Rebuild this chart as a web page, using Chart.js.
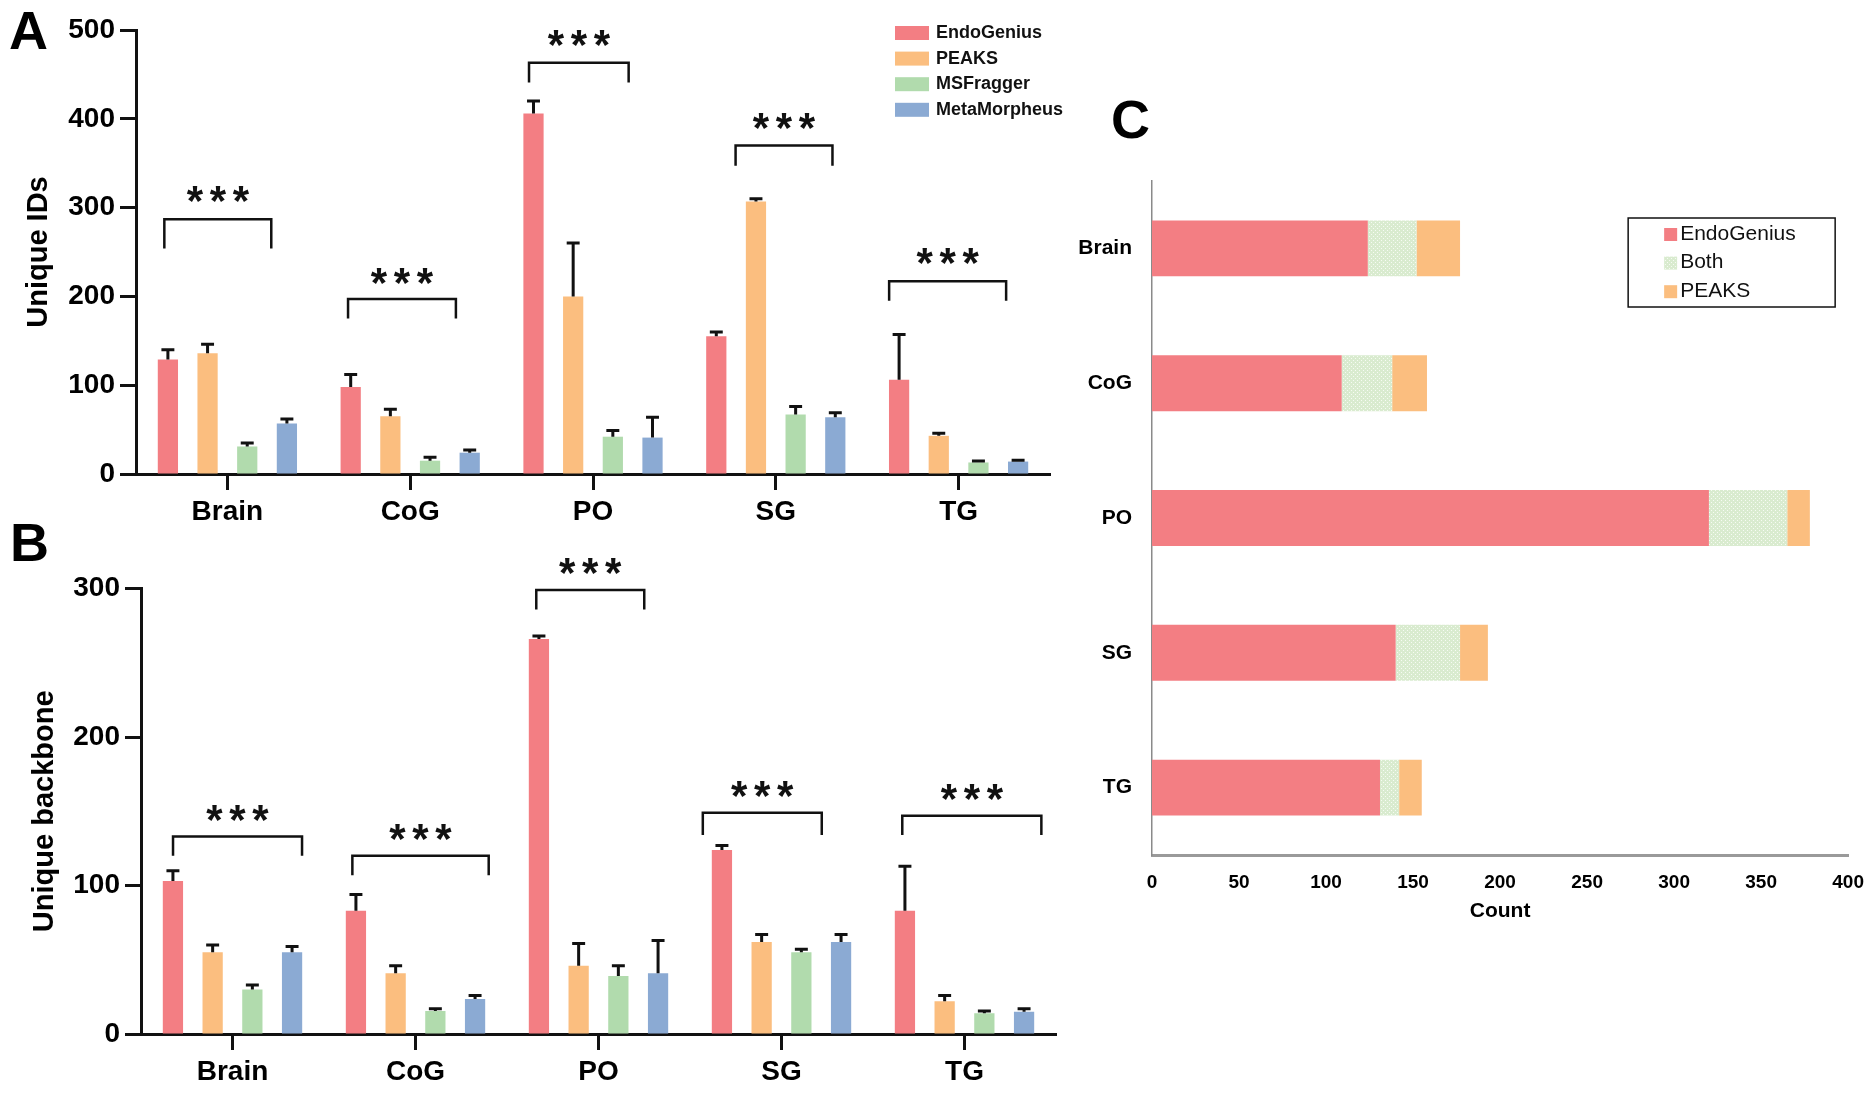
<!DOCTYPE html>
<html>
<head>
<meta charset="utf-8">
<title>Unique IDs, unique backbones and overlap per tissue</title>
<script src="https://cdn.jsdelivr.net/npm/chart.js@4.4.1/dist/chart.umd.min.js"></script>
<style>
  html, body { margin: 0; padding: 0; background: #fff; }
  #page { position: relative; width: 1872px; height: 1097px; overflow: hidden; font-family: "Liberation Sans", Arial, sans-serif; }
  canvas { position: absolute; }
  .panel-letter { position: absolute; font-weight: bold; font-size: 54px; line-height: 1; color: #000; }
</style>
</head>
<body>
<div id="page">
  <canvas id="chart-a" width="1065" height="540" style="left:0; top:0"></canvas>
  <canvas id="chart-b" width="1065" height="557" style="left:0; top:540px"></canvas>
  <canvas id="chart-c" width="807" height="1097" style="left:1065px; top:0"></canvas>
  <div class="panel-letter" style="left:9px; top:3px">A</div>
  <div class="panel-letter" style="left:10px; top:515px">B</div>
  <div class="panel-letter" style="left:1111px; top:92px">C</div>
</div>
<script>
// Categories and methods
const tissues = ['Brain', 'CoG', 'PO', 'SG', 'TG'];
const methods = ['EndoGenius', 'PEAKS', 'MSFragger', 'MetaMorpheus'];
const methodColors = ['#F37E83', '#FBBE7F', '#B1DBAD', '#8BAAD3'];

// Panel A: unique IDs (mean) and upper error
const idsEndoGenius = [129, 98, 406, 155, 106];
const idsPeaks = [136, 65, 200, 307, 43];
const idsMsfragger = [31, 15, 42, 67, 13];
const idsMetaMorpheus = [57, 24, 41, 64, 14];
const idsErrEndoGenius = [11, 14, 14, 5, 51];
const idsErrPeaks = [10, 8, 60, 3, 3];
const idsErrMsfragger = [4, 4, 7, 9, 1.5];
const idsErrMetaMorpheus = [5, 3, 23, 5, 1.5];

// Panel A: significance brackets (top, leg end, star height) in y units
const idsBracketTop = [287, 197, 463, 370, 217];
const idsBracketLeg = [254, 175, 441, 347, 195];
const idsStarY = [315, 223, 491, 398, 245];

// Panel B: unique backbones (mean) and upper error
const bbEndoGenius = [103, 83, 266, 124, 83];
const bbPeaks = [55, 41, 46, 62, 22];
const bbMsfragger = [30, 15.5, 39, 55, 14];
const bbMetaMorpheus = [55, 23.5, 41, 62, 15];
const bbErrEndoGenius = [7, 11, 2, 3, 30];
const bbErrPeaks = [5, 5, 15, 5, 4];
const bbErrMsfragger = [3, 1.5, 7, 2, 1.5];
const bbErrMetaMorpheus = [4, 2.5, 22, 5, 2];

// Panel B: significance brackets
const bbBracketTop = [133, 120, 299, 149, 147];
const bbBracketLeg = [120, 107, 286, 134, 134];
const bbStarY = [149, 136, 315, 165, 163];

// Panel C: overlap counts
const overlapLabels = ['EndoGenius', 'Both', 'PEAKS'];
const overlapEndoGenius = [124, 109, 320, 140, 131];
const overlapBoth = [28, 29, 45, 37, 11];
const overlapPeaks = [25, 20, 13, 16, 13];
const countTicks = [0, 50, 100, 150, 200, 250, 300, 350, 400];

const FONT = '"Liberation Sans", Arial, sans-serif';
const INK = '#111';

// Bracket span per tissue, as fraction of the category width around its centre
const idsBracketSpan = [[-0.345, 0.24], [-0.34, 0.25], [-0.35, 0.195], [-0.22, 0.31], [-0.38, 0.26]];
const bbBracketSpan = [[-0.325, 0.38], [-0.345, 0.40], [-0.34, 0.25], [-0.43, 0.22], [-0.34, 0.42]];

// Upper error whiskers
function errorBarPlugin(errors) {
    return {
        id: 'errorBars',
        afterDatasetsDraw(chart) {
            const ctx = chart.ctx;
            const yScale = chart.scales.y;
            ctx.save();
            ctx.strokeStyle = INK;
            ctx.lineWidth = 3;
            chart.data.datasets.forEach(function (ds, d) {
                chart.getDatasetMeta(d).data.forEach(function (bar, i) {
                    const top = yScale.getPixelForValue(ds.data[i] + errors[d][i]);
                    const half = bar.width * 0.32;
                    ctx.beginPath();
                    ctx.moveTo(bar.x, bar.y);
                    ctx.lineTo(bar.x, top);
                    ctx.moveTo(bar.x - half, top);
                    ctx.lineTo(bar.x + half, top);
                    ctx.stroke();
                });
            });
            ctx.restore();
        }
    };
}

// Significance brackets with three stars
function bracketPlugin(tops, legs, stars, spans) {
    return {
        id: 'brackets',
        afterDraw(chart) {
            const ctx = chart.ctx;
            const x = chart.scales.x, y = chart.scales.y;
            const step = x.getPixelForValue(1) - x.getPixelForValue(0);
            ctx.save();
            ctx.strokeStyle = INK;
            ctx.fillStyle = INK;
            ctx.lineWidth = 2.5;
            ctx.font = 'bold 42px ' + FONT;
            ctx.textAlign = 'center';
            ctx.textBaseline = 'alphabetic';
            const m = ctx.measureText('*');
            const lift = (m.actualBoundingBoxAscent - m.actualBoundingBoxDescent) / 2;
            tops.forEach(function (t, i) {
                const c = x.getPixelForValue(i);
                const x1 = c + spans[i][0] * step;
                const x2 = c + spans[i][1] * step;
                const yt = y.getPixelForValue(t);
                const yl = y.getPixelForValue(legs[i]);
                ctx.beginPath();
                ctx.moveTo(x1, yl);
                ctx.lineTo(x1, yt);
                ctx.lineTo(x2, yt);
                ctx.lineTo(x2, yl);
                ctx.stroke();
                const ys = y.getPixelForValue(stars[i]) + lift;
                const mid = (x1 + x2) / 2;
                [-1, 0, 1].forEach(function (k) {
                    ctx.fillText('*', mid + k * 23, ys);
                });
            });
            ctx.restore();
        }
    };
}

// Legend of panel A, top right inside the plot
const legendAPlugin = {
    id: 'legendA',
    afterDraw(chart) {
        const ctx = chart.ctx;
        const left = chart.chartArea.right - 155;
        const top = chart.chartArea.top + 3;
        ctx.save();
        ctx.font = 'bold 18px ' + FONT;
        ctx.textBaseline = 'middle';
        chart.data.datasets.forEach(function (ds, i) {
            const cy = top + i * 25.6;
            ctx.fillStyle = ds.backgroundColor;
            ctx.fillRect(left, cy - 7, 34, 14);
            ctx.fillStyle = INK;
            ctx.fillText(ds.label, left + 41, cy);
        });
        ctx.restore();
    }
};

// Boxed legend of panel C
const legendCPlugin = {
    id: 'legendC',
    afterDraw(chart) {
        const ctx = chart.ctx;
        const left = chart.chartArea.right - 220;
        const top = chart.chartArea.top + 37;
        ctx.save();
        ctx.strokeStyle = INK;
        ctx.lineWidth = 1.5;
        ctx.strokeRect(left, top, 207, 89);
        ctx.font = '21px ' + FONT;
        ctx.textBaseline = 'middle';
        chart.data.datasets.forEach(function (ds, i) {
            const cy = top + 16 + i * 28.6;
            ctx.fillStyle = ds.backgroundColor;
            ctx.fillRect(left + 36, cy - 6, 13, 13);
            ctx.fillStyle = INK;
            ctx.fillText(ds.label, left + 52, cy);
        });
        ctx.restore();
    }
};

// Dotted fill used for "Both"
function dottedPattern() {
    const c = document.createElement('canvas');
    c.width = 4;
    c.height = 4;
    const g = c.getContext('2d');
    g.fillStyle = '#D9EBCF';
    g.fillRect(0, 0, 4, 4);
    g.fillStyle = '#F6FBF3';
    g.fillRect(0, 0, 1, 1);
    g.fillRect(2, 2, 1, 1);
    return g.createPattern(c, 'repeat');
}

function groupedDatasets(series) {
    return series.map(function (data, i) {
        return {
            label: methods[i],
            data: data,
            backgroundColor: methodColors[i],
            borderWidth: 0,
            categoryPercentage: 0.868,
            barPercentage: 0.51
        };
    });
}

function groupedOptions(yMax, yTitle, yWidth, xHeight, titlePad, padding) {
    return {
        responsive: false,
        animation: false,
        layout: { padding: padding },
        plugins: { legend: { display: false }, tooltip: { enabled: false } },
        scales: {
            x: {
                z: 1,
                grid: { drawOnChartArea: false, drawTicks: true, tickLength: 16, tickWidth: 3, offset: false, color: INK },
                border: { color: INK, width: 3 },
                ticks: { color: '#000', padding: 5, font: { family: FONT, size: 28, weight: 'bold' } },
                afterFit(scale) { scale.height = xHeight; }
            },
            y: {
                min: 0,
                max: yMax,
                grid: { drawOnChartArea: false, drawTicks: true, tickLength: 16, tickWidth: 3, color: INK },
                border: { color: INK, width: 3 },
                ticks: { stepSize: 100, color: '#000', padding: 5, font: { family: FONT, size: 28, weight: 'bold' } },
                title: { display: true, text: yTitle, color: '#000', padding: { top: titlePad, bottom: 0 }, font: { family: FONT, size: 29, weight: 'bold' } },
                afterFit(scale) { scale.width = yWidth; }
            }
        }
    };
}

// Panel A
new Chart(document.getElementById('chart-a'), {
    type: 'bar',
    data: {
        labels: tissues,
        datasets: groupedDatasets([idsEndoGenius, idsPeaks, idsMsfragger, idsMetaMorpheus])
    },
    options: groupedOptions(500, 'Unique IDs', 136, 66, 22, { top: 30, right: 15, left: 0, bottom: 0 }),
    plugins: [
        errorBarPlugin([idsErrEndoGenius, idsErrPeaks, idsErrMsfragger, idsErrMetaMorpheus]),
        bracketPlugin(idsBracketTop, idsBracketLeg, idsStarY, idsBracketSpan),
        legendAPlugin
    ]
});

// Panel B
new Chart(document.getElementById('chart-b'), {
    type: 'bar',
    data: {
        labels: tissues,
        datasets: groupedDatasets([bbEndoGenius, bbPeaks, bbMsfragger, bbMetaMorpheus])
    },
    options: groupedOptions(300, 'Unique backbone', 141, 63, 28, { top: 48.6, right: 9, left: 0, bottom: 0 }),
    plugins: [
        errorBarPlugin([bbErrEndoGenius, bbErrPeaks, bbErrMsfragger, bbErrMetaMorpheus]),
        bracketPlugin(bbBracketTop, bbBracketLeg, bbStarY, bbBracketSpan)
    ]
});

// Panel C
new Chart(document.getElementById('chart-c'), {
    type: 'bar',
    data: {
        labels: tissues,
        datasets: [
            { label: overlapLabels[0], data: overlapEndoGenius, backgroundColor: methodColors[0] },
            { label: overlapLabels[1], data: overlapBoth, backgroundColor: dottedPattern() },
            { label: overlapLabels[2], data: overlapPeaks, backgroundColor: methodColors[1] }
        ]
    },
    options: {
        indexAxis: 'y',
        responsive: false,
        animation: false,
        layout: { padding: { top: 181, right: 15, left: 0, bottom: 162 } },
        datasets: { bar: { barPercentage: 0.415, categoryPercentage: 1, borderWidth: 0 } },
        plugins: { legend: { display: false }, tooltip: { enabled: false } },
        scales: {
            x: {
                stacked: true,
                min: countTicks[0],
                max: countTicks[countTicks.length - 1],
                grid: { display: false },
                border: { color: '#9A9A9A', width: 3 },
                ticks: { stepSize: 50, color: '#000', padding: 8, font: { family: FONT, size: 19, weight: 'bold' } },
                title: { display: true, text: 'Count', color: '#000', padding: { top: 0, bottom: 11 }, font: { family: FONT, size: 21, weight: 'bold' } },
                afterFit(scale) { scale.height = 80; }
            },
            y: {
                stacked: true,
                grid: { display: false },
                border: { color: '#8A8A8A', width: 1.5 },
                ticks: { color: '#000', padding: 12, font: { family: FONT, size: 21, weight: 'bold' } },
                afterFit(scale) { scale.width = 87; }
            }
        }
    },
    plugins: [legendCPlugin]
});
</script>
</body>
</html>
